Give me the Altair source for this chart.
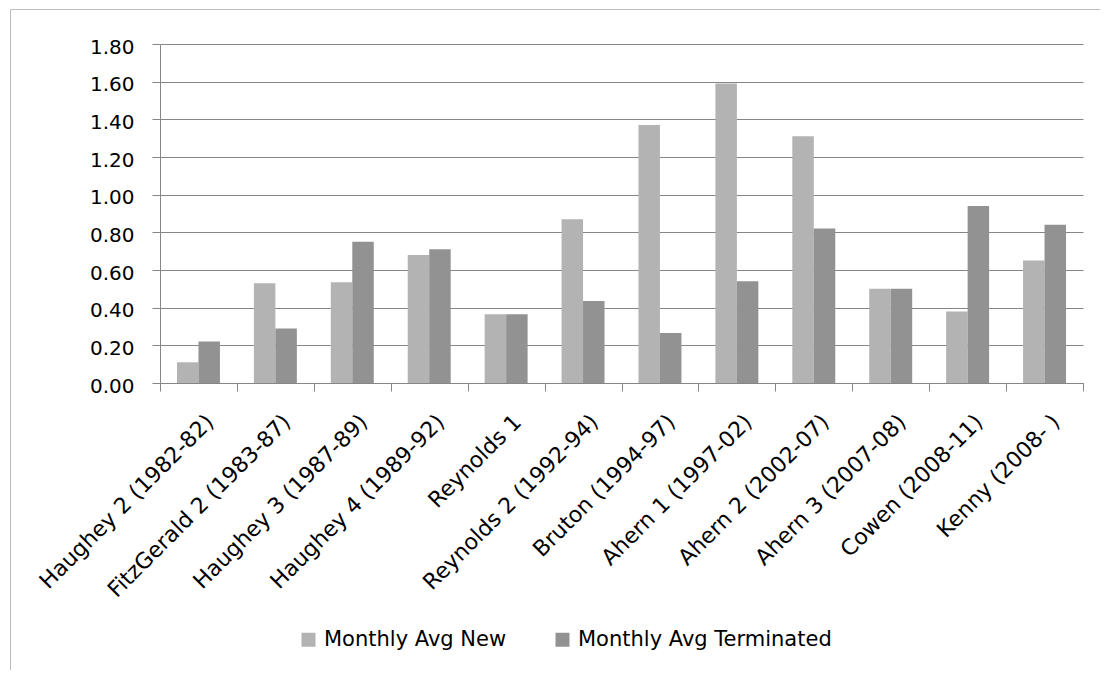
import altair as alt
import pandas as pd

categories = [
    "Haughey 2 (1982-82)", "FitzGerald 2 (1983-87)", "Haughey 3 (1987-89)",
    "Haughey 4 (1989-92)", "Reynolds 1", "Reynolds 2 (1992-94)",
    "Bruton (1994-97)", "Ahern 1 (1997-02)", "Ahern 2 (2002-07)",
    "Ahern 3 (2007-08)", "Cowen (2008-11)", "Kenny (2008- )",
]
avg_new = [0.11, 0.53, 0.535, 0.68, 0.365, 0.87, 1.37, 1.59, 1.31, 0.50, 0.38, 0.65]
avg_terminated = [0.22, 0.29, 0.75, 0.71, 0.365, 0.435, 0.265, 0.54, 0.82, 0.50, 0.94, 0.84]
series = ["Monthly Avg New", "Monthly Avg Terminated"]
colors = ["#b3b3b3", "#929292"]
y_ticks = [0.0, 0.2, 0.4, 0.6, 0.8, 1.0, 1.2, 1.4, 1.6, 1.8]

rows = []
for c, n, t in zip(categories, avg_new, avg_terminated):
    rows.append({"category": c, "series": series[0], "value": n})
    rows.append({"category": c, "series": series[1], "value": t})
df = pd.DataFrame(rows)

W, H = 923, 339
FONT = "DejaVu Sans"
GRID = "#868686"
FRAME = "#bdbdbd"

bars = alt.Chart(df).mark_bar().encode(
    x=alt.X(
        "category:N", sort=categories,
        scale=alt.Scale(paddingInner=0, paddingOuter=0),
        axis=alt.Axis(
            title=None, labelAngle=-45, labelAlign="right", labelBaseline="top",
            tickBand="extent", tickSize=8, labelPadding=20, labelOffset=4,
            labelLimit=0,
            domainColor=GRID, tickColor=GRID, labelColor="black",
            labelFont=FONT, labelFontSize=22, grid=False,
        ),
    ),
    xOffset=alt.XOffset(
        "series:N", sort=series,
        scale=alt.Scale(paddingInner=0, paddingOuter=0.79),
    ),
    y=alt.Y(
        "value:Q",
        scale=alt.Scale(domain=[0, 1.8], nice=False),
        axis=alt.Axis(
            title=None, values=y_ticks, format=".2f", tickSize=8, labelPadding=18,
            labelOffset=3,
            grid=True, gridColor=GRID, domainColor=GRID, tickColor=GRID,
            labelColor="black", labelFont=FONT, labelFontSize=20,
        ),
    ),
    color=alt.Color(
        "series:N", sort=series,
        scale=alt.Scale(domain=series, range=colors),
        legend=alt.Legend(
            orient="none", legendX=138, legendY=585, direction="horizontal",
            title=None, symbolType="square", symbolSize=196, symbolStrokeWidth=0,
            labelFont=FONT, labelFontSize=21, labelColor="black", labelLimit=0,
            columnPadding=45, labelOffset=5,
        ),
    ),
)

frame_df = pd.DataFrame({"k": [0]})
top_line = alt.Chart(frame_df).mark_rule(color=FRAME, strokeWidth=1).encode(
    x=alt.value(-149.5), x2=alt.value(940), y=alt.value(-34.5)
)
left_line = alt.Chart(frame_df).mark_rule(color=FRAME, strokeWidth=1).encode(
    x=alt.value(-149.5), y=alt.value(-34.5), y2=alt.value(626)
)

chart = alt.layer(bars, top_line, left_line).properties(
    width=W, height=H,
    padding={"left": 2, "top": 1, "right": 0, "bottom": 0},
).configure_view(stroke=None)

chart.save("out.html", embed_options={"renderer": "svg", "actions": False})
